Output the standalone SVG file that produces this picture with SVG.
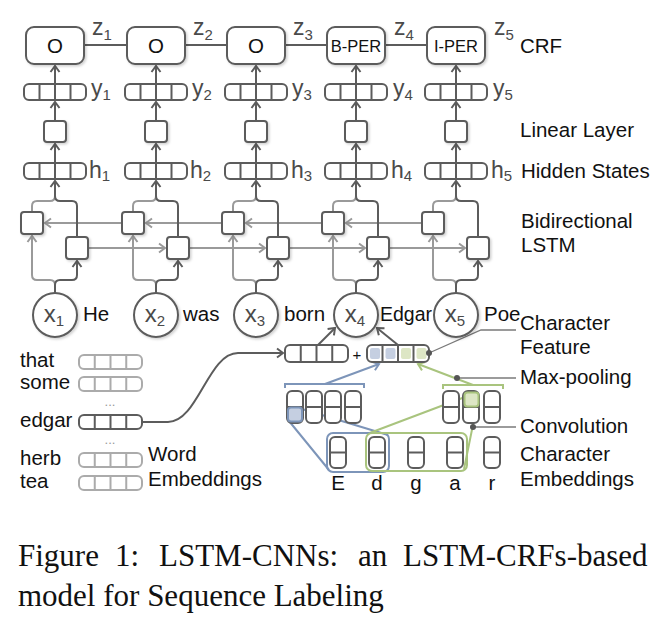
<svg xmlns="http://www.w3.org/2000/svg" width="666" height="632" viewBox="0 0 666 632">
<defs>
<style>
.bx{fill:#fff;stroke:#5c5c5c;stroke-width:2}
.lt{fill:#fff;stroke:#ababab;stroke-width:2}
.dv{stroke:#5c5c5c;stroke-width:2;fill:none}
.dvl{stroke:#ababab;stroke-width:2;fill:none}
.ln{fill:none;stroke:#5c5c5c;stroke-width:2}
.lg{fill:none;stroke:#9a9a9a;stroke-width:2}
.lb{fill:none;stroke:#7d95b9;stroke-width:2}
.lgr{fill:none;stroke:#a9c47e;stroke-width:2}
.ld{fill:none;stroke:#7a7a7a;stroke-width:1.3}
.t{font-family:"Liberation Sans",Arial,sans-serif;font-size:20.5px;fill:#111}
.v{font-family:"Liberation Sans",Arial,sans-serif;font-size:23px;fill:#4a4a4a}
.s{font-size:15px}
.cap{font-family:"Liberation Serif","Times New Roman",serif;font-size:31px;fill:#111}
.sh{filter:url(#shadow)}
</style>
<filter id="shadow" x="-20%" y="-20%" width="150%" height="150%">
<feDropShadow dx="1.5" dy="1.5" stdDeviation="1" flood-color="#000" flood-opacity="0.18"/>
</filter>
<marker id="aD" viewBox="-8 -6 10 12" refX="0" refY="0" markerWidth="10" markerHeight="12" markerUnits="userSpaceOnUse" orient="auto"><path d="M-6,-4.5 L0,0 L-6,4.5" fill="none" stroke="#5c5c5c" stroke-width="2"/></marker>
<marker id="aG" viewBox="-8 -6 10 12" refX="0" refY="0" markerWidth="10" markerHeight="12" markerUnits="userSpaceOnUse" orient="auto"><path d="M-6,-4.5 L0,0 L-6,4.5" fill="none" stroke="#9a9a9a" stroke-width="2"/></marker>
<marker id="aB" viewBox="-8 -6 10 12" refX="0" refY="0" markerWidth="10" markerHeight="12" markerUnits="userSpaceOnUse" orient="auto"><path d="M-6,-4.5 L0,0 L-6,4.5" fill="none" stroke="#7d95b9" stroke-width="2"/></marker>
<marker id="aGr" viewBox="-8 -6 10 12" refX="0" refY="0" markerWidth="10" markerHeight="12" markerUnits="userSpaceOnUse" orient="auto"><path d="M-6,-4.5 L0,0 L-6,4.5" fill="none" stroke="#a9c47e" stroke-width="2"/></marker>
</defs>
<rect width="666" height="632" fill="#fff"/>

<g id="connectors">
<path class="ln" d="M84,45 H127 M185,45 H227 M285,45 H327 M385,45 H427"/>
<g class="ln" marker-end="url(#aD)">
<path d="M55,84 V66"/><path d="M156,84 V66"/><path d="M256,84 V66"/><path d="M356,84 V66"/><path d="M456,84 V66"/>
<path d="M55,121 V102"/><path d="M156,121 V102"/><path d="M256,121 V102"/><path d="M356,121 V102"/><path d="M456,121 V102"/>
<path d="M55,163 V144"/><path d="M156,163 V144"/><path d="M256,163 V144"/><path d="M356,163 V144"/><path d="M456,163 V144"/>
</g>
<g class="lg" marker-end="url(#aG)">
<path d="M122,223 H45"/><path d="M222,223 H146"/><path d="M322,223 H246"/><path d="M422,223 H346"/>
<path d="M88,248 H165"/><path d="M189,248 H265"/><path d="M289,248 H365"/><path d="M389,248 H465"/>
</g>
<g class="lg">
<path d="M32,212 V206 Q32,201 37,201 H50 Q55,201 55,196"/>
<path d="M133,212 V206 Q133,201 138,201 H151 Q156,201 156,196"/>
<path d="M233,212 V206 Q233,201 238,201 H251 Q256,201 256,196"/>
<path d="M333,212 V206 Q333,201 338,201 H351 Q356,201 356,196"/>
<path d="M433,212 V206 Q433,201 438,201 H451 Q456,201 456,196"/>
</g>
<g class="lg" marker-end="url(#aG)">
<path d="M55,293 V285 Q55,280 50,280 H37 Q32,280 32,275 V236"/>
<path d="M156,293 V285 Q156,280 151,280 H138 Q133,280 133,275 V236"/>
<path d="M256,293 V285 Q256,280 251,280 H238 Q233,280 233,275 V236"/>
<path d="M356,293 V285 Q356,280 351,280 H338 Q333,280 333,275 V236"/>
<path d="M456,293 V285 Q456,280 451,280 H438 Q433,280 433,275 V236"/>
</g>
<g class="ln" marker-end="url(#aD)">
<path d="M77,237 V206 Q77,201 72,201 H60 Q55,201 55,196 V181"/>
<path d="M178,237 V206 Q178,201 173,201 H161 Q156,201 156,196 V181"/>
<path d="M278,237 V206 Q278,201 273,201 H261 Q256,201 256,196 V181"/>
<path d="M378,237 V206 Q378,201 373,201 H361 Q356,201 356,196 V181"/>
<path d="M478,237 V206 Q478,201 473,201 H461 Q456,201 456,196 V181"/>
<path d="M55,293 V285 Q55,280 60,280 H72 Q77,280 77,275 V261"/>
<path d="M156,293 V285 Q156,280 161,280 H173 Q178,280 178,275 V261"/>
<path d="M256,293 V285 Q256,280 261,280 H273 Q278,280 278,275 V261"/>
<path d="M356,293 V285 Q356,280 361,280 H373 Q378,280 378,275 V261"/>
<path d="M456,293 V285 Q456,280 461,280 H473 Q478,280 478,275 V261"/>
</g>
<path class="ln" marker-end="url(#aD)" d="M142,422 H168 C198,422 208,353 238,353 H283"/>
<path class="ln" marker-end="url(#aD)" d="M318,345 L335,328"/>
<path class="ln" marker-end="url(#aD)" d="M398,345 L377,328"/>
<path class="lb" d="M285,388 V384 H364 V388"/>
<path class="lgr" d="M443,389 V385 H503 V389"/>
<path class="lb" marker-end="url(#aB)" d="M325,384 L379,364"/>
<path class="lgr" marker-end="url(#aGr)" d="M473,385 L418,364"/>
<path class="lb" d="M289,421 L329,470 M302,409 L388,435"/>
<path class="lgr" d="M367,434 L465,397 M477,405 L464,469"/>
<path class="ld" d="M429,353 L481,330 H516"/>
<path class="ld" d="M457,378 H516"/>
<path class="ld" d="M473,427 H516"/>
</g>

<g id="crf">
<g id="crf1"><rect class="bx sh" x="26" y="27" width="58" height="37" rx="8"/><text class="t" x="55" y="53" text-anchor="middle">O</text></g>
<g id="crf2"><rect class="bx sh" x="127" y="27" width="58" height="37" rx="8"/><text class="t" x="156" y="53" text-anchor="middle">O</text></g>
<g id="crf3"><rect class="bx sh" x="227" y="27" width="58" height="37" rx="8"/><text class="t" x="256" y="53" text-anchor="middle">O</text></g>
<g id="crf4"><rect class="bx sh" x="327" y="27" width="58" height="37" rx="8"/><text class="t" x="356" y="52" text-anchor="middle" style="font-size:16.5px">B-PER</text></g>
<g id="crf5"><rect class="bx sh" x="427" y="27" width="58" height="37" rx="8"/><text class="t" x="456" y="52" text-anchor="middle" style="font-size:16.5px">I-PER</text></g>
<text class="v" x="92" y="35">z<tspan class="s" dy="5">1</tspan></text>
<text class="v" x="193" y="35">z<tspan class="s" dy="5">2</tspan></text>
<text class="v" x="293" y="35">z<tspan class="s" dy="5">3</tspan></text>
<text class="v" x="394" y="35">z<tspan class="s" dy="5">4</tspan></text>
<text class="v" x="494" y="35">z<tspan class="s" dy="5">5</tspan></text>
</g>

<g id="outputs">
<g id="y1"><rect class="bx" x="24" y="84" width="62" height="16" rx="5"/><path class="dv" d="M39.5,84 V100 M55,84 V100 M70.5,84 V100"/></g>
<g id="y2"><rect class="bx" x="125" y="84" width="62" height="16" rx="5"/><path class="dv" d="M140.5,84 V100 M156,84 V100 M171.5,84 V100"/></g>
<g id="y3"><rect class="bx" x="225" y="84" width="62" height="16" rx="5"/><path class="dv" d="M240.5,84 V100 M256,84 V100 M271.5,84 V100"/></g>
<g id="y4"><rect class="bx" x="325" y="84" width="62" height="16" rx="5"/><path class="dv" d="M340.5,84 V100 M356,84 V100 M371.5,84 V100"/></g>
<g id="y5"><rect class="bx" x="425" y="84" width="62" height="16" rx="5"/><path class="dv" d="M440.5,84 V100 M456,84 V100 M471.5,84 V100"/></g>
<text class="v" x="91" y="96">y<tspan class="s" dy="4">1</tspan></text>
<text class="v" x="192" y="96">y<tspan class="s" dy="4">2</tspan></text>
<text class="v" x="292" y="96">y<tspan class="s" dy="4">3</tspan></text>
<text class="v" x="393" y="96">y<tspan class="s" dy="4">4</tspan></text>
<text class="v" x="493" y="96">y<tspan class="s" dy="4">5</tspan></text>
</g>

<g id="linear">
<rect id="lin1" class="bx sh" x="44" y="121" width="22" height="21" rx="3"/>
<rect id="lin2" class="bx sh" x="145" y="121" width="22" height="21" rx="3"/>
<rect id="lin3" class="bx sh" x="245" y="121" width="22" height="21" rx="3"/>
<rect id="lin4" class="bx sh" x="345" y="121" width="22" height="21" rx="3"/>
<rect id="lin5" class="bx sh" x="445" y="121" width="22" height="21" rx="3"/>
</g>

<g id="hidden">
<g id="h1"><rect class="bx" x="24" y="163" width="62" height="16" rx="5"/><path class="dv" d="M39.5,163 V179 M55,163 V179 M70.5,163 V179"/></g>
<g id="h2"><rect class="bx" x="125" y="163" width="62" height="16" rx="5"/><path class="dv" d="M140.5,163 V179 M156,163 V179 M171.5,163 V179"/></g>
<g id="h3"><rect class="bx" x="225" y="163" width="62" height="16" rx="5"/><path class="dv" d="M240.5,163 V179 M256,163 V179 M271.5,163 V179"/></g>
<g id="h4"><rect class="bx" x="325" y="163" width="62" height="16" rx="5"/><path class="dv" d="M340.5,163 V179 M356,163 V179 M371.5,163 V179"/></g>
<g id="h5"><rect class="bx" x="425" y="163" width="62" height="16" rx="5"/><path class="dv" d="M440.5,163 V179 M456,163 V179 M471.5,163 V179"/></g>
<text class="v" x="89" y="178">h<tspan class="s" dy="3">1</tspan></text>
<text class="v" x="190" y="178">h<tspan class="s" dy="3">2</tspan></text>
<text class="v" x="291" y="178">h<tspan class="s" dy="3">3</tspan></text>
<text class="v" x="391" y="178">h<tspan class="s" dy="3">4</tspan></text>
<text class="v" x="491" y="178">h<tspan class="s" dy="3">5</tspan></text>
</g>

<g id="lstm">
<rect id="bw1" class="bx sh" x="21" y="212" width="22" height="22" rx="3"/>
<rect id="bw2" class="bx sh" x="122" y="212" width="22" height="22" rx="3"/>
<rect id="bw3" class="bx sh" x="222" y="212" width="22" height="22" rx="3"/>
<rect id="bw4" class="bx sh" x="322" y="212" width="22" height="22" rx="3"/>
<rect id="bw5" class="bx sh" x="422" y="212" width="22" height="22" rx="3"/>
<rect id="fw1" class="bx sh" x="66" y="237" width="22" height="22" rx="3"/>
<rect id="fw2" class="bx sh" x="167" y="237" width="22" height="22" rx="3"/>
<rect id="fw3" class="bx sh" x="267" y="237" width="22" height="22" rx="3"/>
<rect id="fw4" class="bx sh" x="367" y="237" width="22" height="22" rx="3"/>
<rect id="fw5" class="bx sh" x="467" y="237" width="22" height="22" rx="3"/>
</g>

<g id="inputs">
<g id="x1"><circle class="bx sh" cx="55" cy="315" r="22"/><text class="v" x="54" y="322" text-anchor="middle" style="font-size:24px">x<tspan class="s" dy="4">1</tspan></text><text class="t" x="83" y="321">He</text></g>
<g id="x2"><circle class="bx sh" cx="156" cy="315" r="22"/><text class="v" x="155" y="322" text-anchor="middle" style="font-size:24px">x<tspan class="s" dy="4">2</tspan></text><text class="t" x="183" y="321">was</text></g>
<g id="x3"><circle class="bx sh" cx="256" cy="315" r="22"/><text class="v" x="255" y="322" text-anchor="middle" style="font-size:24px">x<tspan class="s" dy="4">3</tspan></text><text class="t" x="284" y="321">born</text></g>
<g id="x4"><circle class="bx sh" cx="356" cy="315" r="22"/><text class="v" x="355" y="322" text-anchor="middle" style="font-size:24px">x<tspan class="s" dy="4">4</tspan></text><text class="t" x="380" y="321" textLength="52" lengthAdjust="spacingAndGlyphs">Edgar</text></g>
<g id="x5"><circle class="bx sh" cx="456" cy="315" r="22"/><text class="v" x="455" y="322" text-anchor="middle" style="font-size:24px">x<tspan class="s" dy="4">5</tspan></text><text class="t" x="484" y="321">Poe</text></g>
</g>

<g id="word-embeddings">
<text class="t" x="20" y="367">that</text>
<rect class="lt" x="79" y="355" width="63" height="14" rx="5"/><path class="dvl" d="M94.75,355 V369 M110.5,355 V369 M126.25,355 V369"/>
<text class="t" x="20" y="389">some</text>
<rect class="lt" x="79" y="377" width="63" height="14" rx="5"/><path class="dvl" d="M94.75,377 V391 M110.5,377 V391 M126.25,377 V391"/>
<text x="110" y="406" text-anchor="middle" style="font-family:'Liberation Sans',sans-serif;font-size:13px;fill:#999">...</text>
<text class="t" x="20" y="427">edgar</text>
<rect class="bx" x="79" y="415" width="63" height="14" rx="5"/><path class="dv" d="M94.75,415 V429 M110.5,415 V429 M126.25,415 V429"/>
<text x="110" y="444" text-anchor="middle" style="font-family:'Liberation Sans',sans-serif;font-size:13px;fill:#999">...</text>
<text class="t" x="20" y="465">herb</text>
<rect class="lt" x="79" y="453" width="63" height="14" rx="5"/><path class="dvl" d="M94.75,453 V467 M110.5,453 V467 M126.25,453 V467"/>
<text class="t" x="20" y="488">tea</text>
<rect class="lt" x="79" y="476" width="63" height="14" rx="5"/><path class="dvl" d="M94.75,476 V490 M110.5,476 V490 M126.25,476 V490"/>
<text class="t" x="148" y="461">Word</text>
<text class="t" x="148" y="486">Embeddings</text>
</g>

<g id="concat">
<g id="word-vector"><rect class="bx" x="285" y="345" width="63" height="17" rx="5"/><path class="dv" d="M300.75,345 V362 M316.5,345 V362 M332.25,345 V362"/></g>
<text class="t" x="357" y="360" text-anchor="middle" style="font-size:15px">+</text>
<g id="char-feature">
<rect class="bx" x="367" y="345" width="62" height="17" rx="5"/>
<rect x="370" y="348" width="10" height="11" rx="2" fill="#c5cfe1"/>
<rect x="385.5" y="348" width="10" height="11" rx="2" fill="#c5cfe1"/>
<rect x="401" y="348" width="10" height="11" rx="2" fill="#dde6c5"/>
<rect x="416.5" y="348" width="10" height="11" rx="2" fill="#dde6c5"/>
<path class="dv" d="M382.5,345 V362 M398,345 V362 M413.5,345 V362"/>
</g>
</g>

<g id="conv-blue">
<rect class="bx" x="287" y="391" width="16" height="32" rx="5"/>
<rect class="bx" x="306" y="391" width="16" height="32" rx="5"/>
<rect class="bx" x="325" y="391" width="16" height="32" rx="5"/>
<rect class="bx" x="345" y="391" width="16" height="32" rx="5"/>
<path class="dv" d="M287,407 H303 M306,407 H322 M325,407 H341 M345,407 H361"/>
<rect x="288" y="407.5" width="14" height="14" rx="3" fill="#c5cfe1" stroke="#7d95b9" stroke-width="2"/>
</g>
<g id="conv-green">
<rect class="bx" x="443" y="391" width="16" height="32" rx="5"/>
<rect class="bx" x="463" y="391" width="16" height="32" rx="5"/>
<rect class="bx" x="484" y="391" width="16" height="32" rx="5"/>
<path class="dv" d="M443,407 H459 M463,407 H479 M484,407 H500"/>
<rect x="464.5" y="392.5" width="14" height="14" rx="3" fill="#dde6c5" stroke="#a9c47e" stroke-width="2"/>
</g>

<g id="char-embeddings">
<rect class="bx" x="330" y="437" width="16" height="31" rx="5"/>
<rect class="bx" x="369" y="437" width="16" height="31" rx="5"/>
<rect class="bx" x="408" y="437" width="16" height="31" rx="5"/>
<rect class="bx" x="447" y="437" width="16" height="31" rx="5"/>
<rect class="bx" x="484" y="437" width="16" height="31" rx="5"/>
<path class="dv" d="M330,452.5 H346 M369,452.5 H385 M408,452.5 H424 M447,452.5 H463 M484,452.5 H500"/>
<rect x="327" y="433" width="62" height="39" rx="6" fill="none" stroke="#7d95b9" stroke-width="2"/>
<rect x="366" y="433" width="101" height="38" rx="6" fill="none" stroke="#a9c47e" stroke-width="2"/>
<text class="t" x="338" y="490" text-anchor="middle">E</text>
<text class="t" x="377" y="490" text-anchor="middle">d</text>
<text class="t" x="416" y="490" text-anchor="middle">g</text>
<text class="t" x="455" y="490" text-anchor="middle">a</text>
<text class="t" x="492" y="490" text-anchor="middle">r</text>
</g>

<g id="leader-dots" fill="#555">
<circle cx="429" cy="353" r="3"/>
<circle cx="457" cy="378" r="3"/>
<circle cx="473" cy="427" r="3"/>
</g>

<g id="layer-labels">
<text class="t" x="520" y="53">CRF</text>
<text class="t" x="520" y="137">Linear Layer</text>
<text class="t" x="521" y="178">Hidden States</text>
<text class="t" x="521" y="228">Bidirectional</text>
<text class="t" x="521" y="252">LSTM</text>
<text class="t" x="520" y="330">Character</text>
<text class="t" x="520" y="354">Feature</text>
<text class="t" x="520" y="384">Max-pooling</text>
<text class="t" x="520" y="433">Convolution</text>
<text class="t" x="520" y="461">Character</text>
<text class="t" x="520" y="486">Embeddings</text>
</g>

<g id="caption">
<text class="cap" y="566"><tspan x="18">Figure</tspan><tspan x="115">1:</tspan><tspan x="159">LSTM-CNNs:</tspan><tspan x="358">an</tspan><tspan x="403">LSTM-CRFs-based</tspan></text>
<text class="cap" x="18" y="606">model for Sequence Labeling</text>
</g>
</svg>
